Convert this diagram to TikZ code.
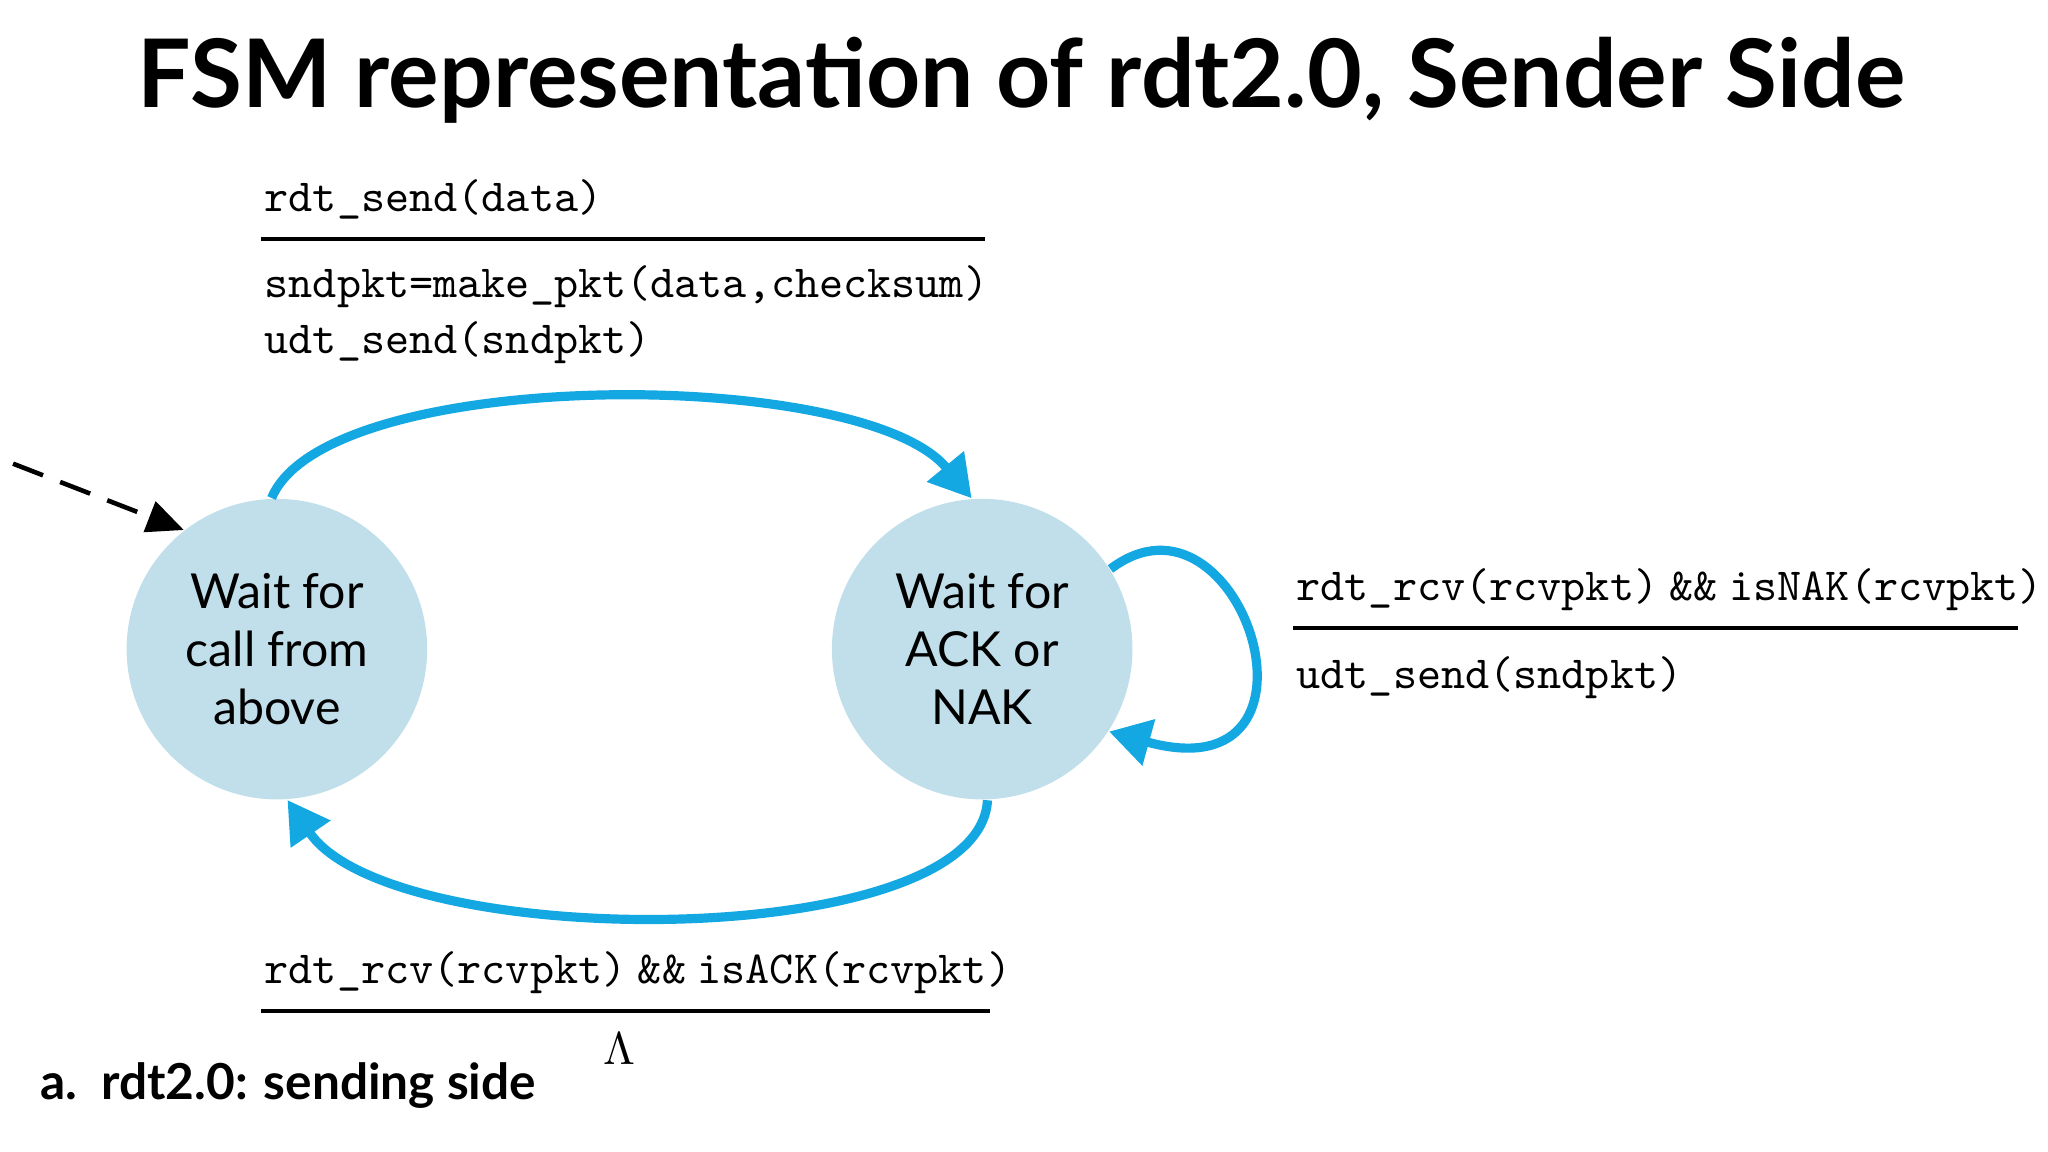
\documentclass[tikz,border=0pt]{standalone}
\usepackage{fontspec}
\setmainfont{Lato}
\usetikzlibrary{arrows.meta}
\definecolor{stc}{RGB}{192,223,234}
\definecolor{arc}{RGB}{20,168,226}
\newcommand{\amp}{\hspace{0.25em}\&\&\hspace{0.25em}}
\begin{document}
\begin{tikzpicture}[x=0.01cm,y=-0.01cm,
  state/.style={circle,fill=stc,minimum size=2.3cm,inner sep=0pt,align=center,font=\fontsize{10.5}{12.6}\selectfont},
  tr/.style={draw=arc,line width=2pt,-{Triangle[length=9pt,width=10pt]}},
  lab/.style={anchor=base west,inner sep=0pt,font=\fontsize{10}{12}\ttfamily},
  rule/.style={line width=0.8pt}]
\useasboundingbox (0,0) rectangle (1568,882);
\node[font=\bfseries\fontsize{20.6}{24}\selectfont,anchor=base] (title) at (782,82) {FSM representation of rdt2.0, Sender Side};
\node[state] (w1) at (212,497) {Wait for\\call from\\above};
\node[state] (w2) at (752,497) {Wait for\\ACK or\\NAK};
\coordinate (init) at (10,355);
\draw[dash pattern=on 7pt off 4pt,line width=1pt,-{Triangle[length=8pt,width=7pt]}] (init) -- (w1.128);
\draw[tr] (w1.92) .. controls (250,280) and (660,280) .. (w2.94);
\draw[tr] (w2.-88) .. controls (750,730) and (300,730) .. (w1.-86);
\draw[tr] (w2.32) .. controls (950,360) and (1030,610) .. (w2.-33);
\node[lab] (l1) at (202,162) {rdt\_send(data)};
\coordinate (r1a) at (200,183); \coordinate (r1b) at (754,183);
\draw[rule] (r1a) -- (r1b);
\node[lab] (l2) at (202,228) {sndpkt=make\_pkt(data,checksum)};
\node[lab] (l3) at (202,271) {udt\_send(sndpkt)};
\node[lab] (l4) at (992,460) {rdt\_rcv(rcvpkt)\amp isNAK(rcvpkt)};
\coordinate (r2a) at (990,481); \coordinate (r2b) at (1545,481);
\draw[rule] (r2a) -- (r2b);
\node[lab] (l5) at (992,527) {udt\_send(sndpkt)};
\node[lab] (l6) at (202,753) {rdt\_rcv(rcvpkt)\amp isACK(rcvpkt)};
\coordinate (r3a) at (200,774); \coordinate (r3b) at (758,774);
\draw[rule] (r3a) -- (r3b);
\node[anchor=base,inner sep=0pt,font=\fontsize{10}{12}\selectfont] (lam) at (474,815) {$\Lambda$};
\node[anchor=base west,inner sep=0pt,font=\bfseries\fontsize{10.8}{13}\selectfont] (cap) at (30,842) {a.\ \ rdt2.0: sending side};
\end{tikzpicture}
\end{document}
